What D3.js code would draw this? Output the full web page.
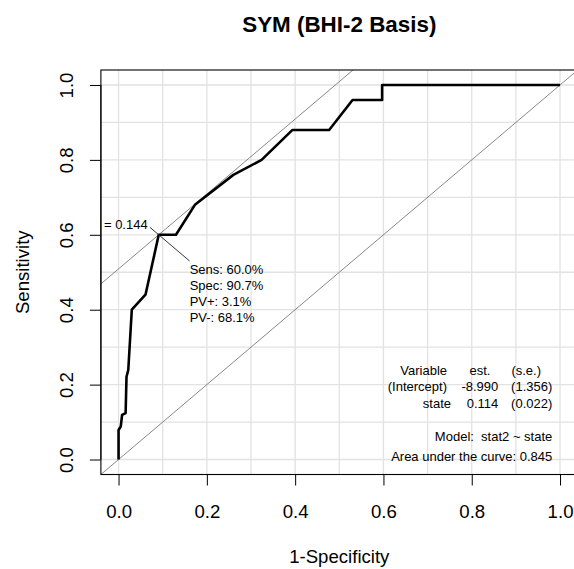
<!DOCTYPE html>
<html><head><meta charset="utf-8">
<script src="https://cdn.jsdelivr.net/npm/d3@7"></script>
<style>body{margin:0;background:#fff}svg{display:block}text{font-family:"Liberation Sans",Arial,sans-serif}</style>
</head><body><svg id="c" width="574" height="569"></svg>
<script>
// ROC curve (1-Specificity, Sensitivity)
const fpr = [0, 0, 0.005, 0.008, 0.016, 0.018, 0.022, 0.030, 0.061, 0.091, 0.130, 0.173, 0.260, 0.324, 0.394, 0.477, 0.530, 0.597, 0.597, 1.0];
const tpr = [0, 0.079, 0.088, 0.119, 0.124, 0.221, 0.239, 0.40, 0.44, 0.60, 0.60, 0.68, 0.76, 0.80, 0.88, 0.88, 0.96, 0.96, 1.0, 1.0];
const tickVals = [0, 0.2, 0.4, 0.6, 0.8, 1.0];
const tickLabels = ["0.0", "0.2", "0.4", "0.6", "0.8", "1.0"];
const gridVals = [0, 0.1, 0.2, 0.3, 0.4, 0.5, 0.6, 0.7, 0.8, 0.9, 1.0];
const optFpr = 0.091, optTpr = 0.60;
const cutoffLabel = "= 0.144";
const optLabels = ["Sens: 60.0%", "Spec: 90.7%", "PV+: 3.1%", "PV-: 68.1%"];
const coefVar = ["Variable", "(Intercept)", "state"];
const coefEst = ["est.", "-8.990", "0.114"];
const coefSe = ["(s.e.)", "(1.356)", "(0.022)"];
const modelText = "Model:  stat2 ~ state";
const aucText = "Area under the curve: 0.845";
const titleText = "SYM (BHI-2 Basis)";
const xLabel = "1-Specificity", yLabel = "Sensitivity";

const svg = d3.select("#c");
const x = d3.scaleLinear().domain([-0.04, 1.04]).range([100.9, 577.7]);
const y = d3.scaleLinear().domain([-0.04, 1.04]).range([474.5, 70.0]);
const [xl, xr] = x.range(), [yb, yt] = y.range();

svg.append("defs").append("clipPath").attr("id", "clip")
  .append("rect").attr("x", xl).attr("y", yt).attr("width", xr - xl).attr("height", yb - yt);
const plot = svg.append("g").attr("clip-path", "url(#clip)");

// grid
plot.selectAll(".gx").data(gridVals).join("line")
  .attr("x1", d => x(d)).attr("x2", d => x(d)).attr("y1", yt).attr("y2", yb)
  .attr("stroke", "#e2e2e2").attr("stroke-width", 1.3);
plot.selectAll(".gy").data(gridVals).join("line")
  .attr("y1", d => y(d)).attr("y2", d => y(d)).attr("x1", xl).attr("x2", xr)
  .attr("stroke", "#e2e2e2").attr("stroke-width", 1.3);

// ab-lines
function abline(a, b) {
  plot.append("line")
    .attr("x1", x(-0.1)).attr("y1", y(a + b * -0.1))
    .attr("x2", x(1.2)).attr("y2", y(a + b * 1.2))
    .attr("stroke", "#7a7a7a").attr("stroke-width", 0.9);
}
abline(0, 1);
abline(optTpr - optFpr, 1);

// ROC curve
const pts = fpr.map((d, i) => [d, tpr[i]]);
plot.append("path").datum(pts)
  .attr("d", d3.line().x(d => x(d[0])).y(d => y(d[1])))
  .attr("fill", "none").attr("stroke", "#000").attr("stroke-width", 2.6)
  .attr("stroke-linejoin", "round");

// optimal point annotations
const px = x(optFpr), py = y(optTpr);
plot.append("line").attr("x1", px).attr("y1", py)
  .attr("x2", x(optFpr - 0.02)).attr("y2", y(optTpr + 0.02))
  .attr("stroke", "#222").attr("stroke-width", 0.9);
plot.append("line").attr("x1", px).attr("y1", py)
  .attr("x2", x(optFpr + 0.07)).attr("y2", y(optTpr - 0.07))
  .attr("stroke", "#222").attr("stroke-width", 0.9);
plot.append("text").attr("x", x(optFpr - 0.025)).attr("y", y(optTpr + 0.02) + 2)
  .attr("text-anchor", "end").attr("font-size", 13).text(cutoffLabel);
optLabels.forEach((t, i) => {
  plot.append("text").attr("x", x(optFpr + 0.07)).attr("y", y(optTpr - 0.07) + 13 + i * 16)
    .attr("font-size", 13).text(t);
});

// coefficient table
const rowY = [375.3, 391.3, 407.6];
coefVar.forEach((t, i) => {
  svg.append("text").attr("x", i === 2 ? 451 : 447).attr("y", rowY[i])
    .attr("text-anchor", "end").attr("font-size", 13).text(t);
});
coefEst.forEach((t, i) => {
  svg.append("text").attr("x", i === 0 ? 480 : 498.3).attr("y", rowY[i])
    .attr("text-anchor", i === 0 ? "middle" : "end").attr("font-size", 13).text(t);
});
coefSe.forEach((t, i) => {
  svg.append("text").attr("x", i === 0 ? 541 : 552.3).attr("y", rowY[i])
    .attr("text-anchor", "end").attr("font-size", 13).text(t);
});
svg.append("text").attr("x", 552.3).attr("y", 440.6).attr("text-anchor", "end")
  .attr("font-size", 13).attr("xml:space", "preserve").style("white-space", "pre").text(modelText);
svg.append("text").attr("x", 552.3).attr("y", 461.3).attr("text-anchor", "end")
  .attr("font-size", 13).text(aucText);

// box
svg.append("rect").attr("x", xl).attr("y", yt).attr("width", xr - xl).attr("height", yb - yt)
  .attr("fill", "none").attr("stroke", "#000").attr("stroke-width", 1.1);

// axes
const xAxis = svg.append("g").attr("transform", `translate(0,${yb})`)
  .call(d3.axisBottom(x).tickValues(tickVals).tickFormat((d, i) => tickLabels[i]).tickSize(11).tickPadding(19));
xAxis.select(".domain").attr("d", `M${x(0)},0H${x(1)}`);
xAxis.selectAll("text").attr("font-size", 18.6).attr("font-family", "Liberation Sans, Arial, sans-serif").attr("fill", "#000").attr("dy", 0).attr("y", 43.8);
xAxis.selectAll("line").attr("stroke", "#000");

const yAxis = svg.append("g").attr("transform", `translate(${xl},0)`)
  .call(d3.axisLeft(y).tickValues(tickVals).tickFormat((d, i) => tickLabels[i]).tickSize(11));
yAxis.select(".domain").attr("d", `M0,${y(0)}V${y(1)}`);
yAxis.selectAll("line").attr("stroke", "#000");
yAxis.selectAll("text")
  .attr("font-size", 18.6).attr("font-family", "Liberation Sans, Arial, sans-serif").attr("fill", "#000")
  .attr("x", null).attr("dy", null).attr("text-anchor", "middle")
  .attr("transform", `translate(${73.3 - xl},0) rotate(-90)`)
  .attr("y", 0);

// labels
svg.append("text").attr("x", (xl + xr) / 2).attr("y", 32).attr("text-anchor", "middle")
  .attr("font-size", 22.4).attr("font-weight", "bold").text(titleText);
svg.append("text").attr("x", (xl + xr) / 2).attr("y", 563).attr("text-anchor", "middle")
  .attr("font-size", 18.6).text(xLabel);
svg.append("text").attr("transform", `translate(28.7,${(yt + yb) / 2}) rotate(-90)`)
  .attr("text-anchor", "middle").attr("font-size", 18.6).text(yLabel);
</script></body></html>
